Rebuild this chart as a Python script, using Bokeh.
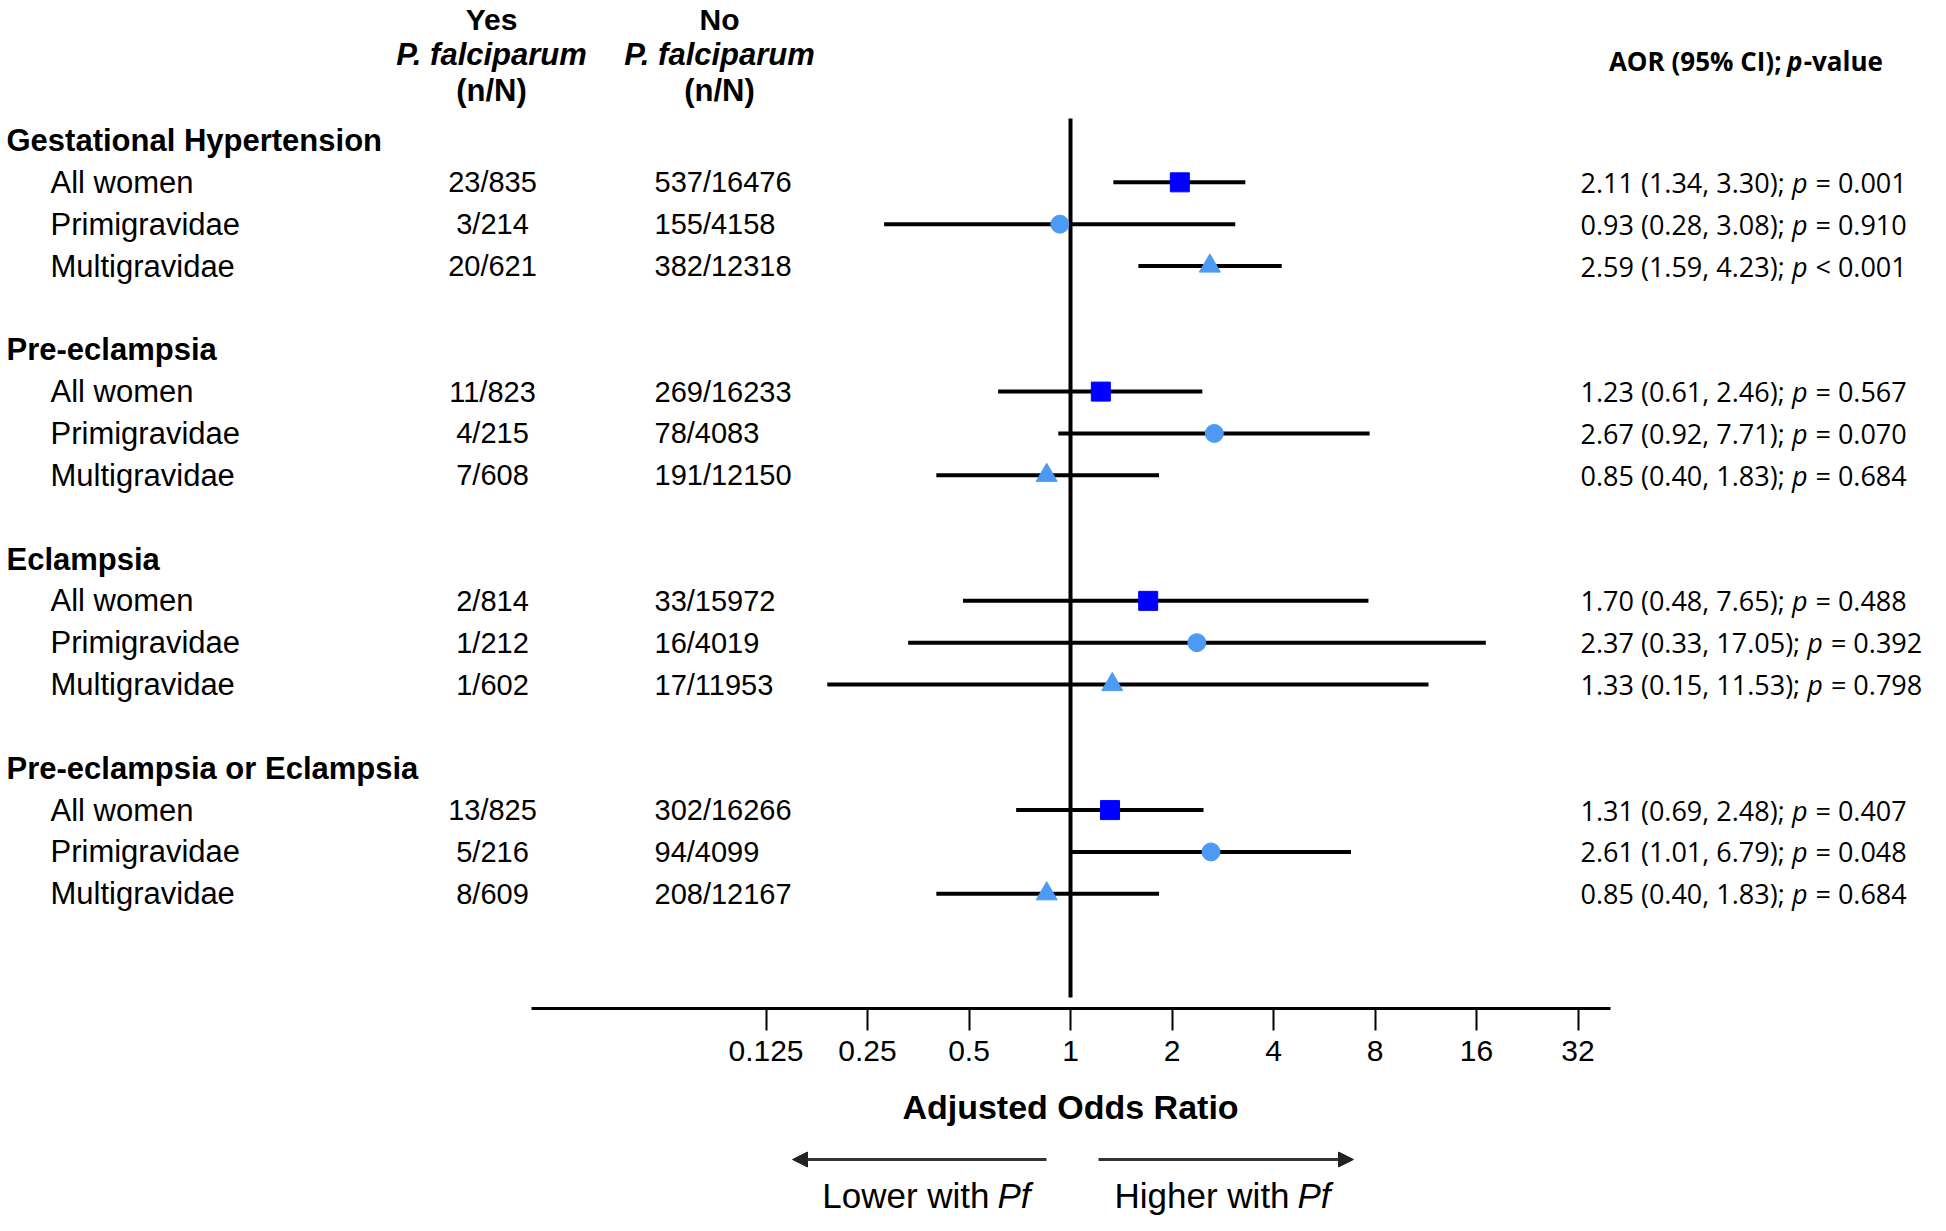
from bokeh.plotting import figure
from bokeh.models import Range1d, LinearScale, FixedTicker, Arrow, NormalHead, ColumnDataSource
from bokeh.layouts import column
from bokeh.core.properties import value
from bokeh.embed import file_html
from bokeh.resources import INLINE

# ---------------- data ----------------
groups = ["Gestational Hypertension", "Pre-eclampsia", "Eclampsia", "Pre-eclampsia or Eclampsia"]
subgroups = ["All women", "Primigravidae", "Multigravidae"]
yes_pf = [["23/835", "3/214", "20/621"],
          ["11/823", "4/215", "7/608"],
          ["2/814", "1/212", "1/602"],
          ["13/825", "5/216", "8/609"]]
no_pf = [["537/16476", "155/4158", "382/12318"],
         ["269/16233", "78/4083", "191/12150"],
         ["33/15972", "16/4019", "17/11953"],
         ["302/16266", "94/4099", "208/12167"]]
aor = [[2.11, 0.93, 2.59],
       [1.23, 2.67, 0.85],
       [1.70, 2.37, 1.33],
       [1.31, 2.61, 0.85]]
ci_low = [[1.34, 0.28, 1.59],
          [0.61, 0.92, 0.40],
          [0.48, 0.33, 0.19],
          [0.69, 1.01, 0.40]]
ci_high = [[3.30, 3.08, 4.23],
           [2.46, 7.71, 1.83],
           [7.65, 17.05, 11.53],
           [2.48, 6.79, 1.83]]
aor_text = [["2.11 (1.34, 3.30);", "0.93 (0.28, 3.08);", "2.59 (1.59, 4.23);"],
            ["1.23 (0.61, 2.46);", "2.67 (0.92, 7.71);", "0.85 (0.40, 1.83);"],
            ["1.70 (0.48, 7.65);", "2.37 (0.33, 17.05);", "1.33 (0.15, 11.53);"],
            ["1.31 (0.69, 2.48);", "2.61 (1.01, 6.79);", "0.85 (0.40, 1.83);"]]
p_text = [["= 0.001", "= 0.910", "< 0.001"],
          ["= 0.567", "= 0.070", "= 0.684"],
          ["= 0.488", "= 0.392", "= 0.798"],
          ["= 0.407", "= 0.048", "= 0.684"]]
tick_values = [0.125, 0.25, 0.5, 1, 2, 4, 8, 16, 32]
tick_labels = ["0.125", "0.25", "0.5", "1", "2", "4", "8", "16", "32"]
marker_shapes = ["square", "circle", "triangle"]
marker_colors = ["#0000FF", "#4C9AF4", "#4C9AF4"]
marker_sizes = [19, 18, 21]

# ---------------- layout constants (page pixels) ----------------
W = 1930
H_TOTAL = 1215
ROW0, PITCH = 140.0, 41.85
AXIS_Y = 1008
AXIS_PANEL = 66
X_ONE, OCTAVE = 1070.0, 101.5

LEFT_FONT = "Liberation Sans"
AOR_FONT = "Open Sans"

OS_W = {c: 0.572 for c in "0123456789=<"}
OS_W.update({".": 0.266, ",": 0.245, "(": 0.296, ")": 0.296, ";": 0.266, " ": 0.26, "p": 0.613})


def em_width(s):
    return sum(OS_W.get(c, 0.55) for c in s)


def row_y(py):
    return (py - ROW0) / PITCH


p = figure(frame_width=W, frame_height=AXIS_Y, x_axis_type="log",
           x_range=Range1d(2 ** (-X_ONE / OCTAVE), 2 ** ((W - X_ONE) / OCTAVE)),
           y_range=Range1d(row_y(AXIS_Y), row_y(0)),
           y_axis_location=None, output_backend="svg", toolbar_location=None,
           min_border=0, min_border_bottom=AXIS_PANEL, outline_line_color=None)
p.extra_x_ranges = {"tbl": Range1d(0, W)}
p.extra_x_scales = {"tbl": LinearScale()}
p.grid.visible = False

ax = p.xaxis[0]
ax.ticker = FixedTicker(ticks=tick_values)
ax.major_label_overrides = dict(zip(tick_values, tick_labels))
ax.bounds = (2 ** ((531 - X_ONE) / OCTAVE), 2 ** ((1610 - X_ONE) / OCTAVE))
ax.axis_line_width = 3
ax.axis_line_color = "black"
ax.major_tick_line_width = 2
ax.major_tick_line_color = "black"
ax.major_tick_out = 22
ax.major_tick_in = 0
ax.minor_tick_line_color = None
ax.major_label_text_font = LEFT_FONT
ax.major_label_text_font_size = "30px"
ax.major_label_text_color = "black"
ax.major_label_standoff = 10

# rows
hy, ht = [], []
ry, rlab, ryes, rno = [], [], [], []
fx, flo, fhi, fy, fm, fc, fs = [], [], [], [], [], [], []
a_pre, a_p, a_val, a_y, a_xp, a_xv = [], [], [], [], [], []
AOR_FS = 27
AOR_X = 1580
for g, name in enumerate(groups):
    hy.append(g * 5)
    ht.append(name)
    for k, sub in enumerate(subgroups):
        y = g * 5 + k + 1
        ry.append(y)
        rlab.append(sub)
        ryes.append(yes_pf[g][k])
        rno.append(no_pf[g][k])
        fx.append(aor[g][k])
        flo.append(ci_low[g][k])
        fhi.append(ci_high[g][k])
        fy.append(y)
        fm.append(marker_shapes[k])
        fc.append(marker_colors[k])
        fs.append(marker_sizes[k])
        pre = aor_text[g][k]
        a_pre.append(pre)
        a_y.append(y)
        xp = AOR_X + (em_width(pre) + 0.26) * AOR_FS
        a_xp.append(xp)
        a_xv.append(xp + (0.613 + 0.26) * AOR_FS)
        a_p.append("p")
        a_val.append(p_text[g][k])

common = dict(x_range_name="tbl", text_color="black", text_baseline="middle")

p.text(x=[6] * len(hy), y=hy, text=ht, text_font=value(LEFT_FONT), text_font_size="31px",
       text_font_style="bold", text_align="left", **common)
p.text(x=[50] * len(ry), y=ry, text=rlab, text_font=value(LEFT_FONT), text_font_size="31px",
       text_align="left", **common)
p.text(x=[492] * len(ry), y=ry, text=ryes, text_font=value(LEFT_FONT), text_font_size="29px",
       text_align="center", **common)
p.text(x=[654] * len(ry), y=ry, text=rno, text_font=value(LEFT_FONT), text_font_size="29px",
       text_align="left", **common)

# column headers
hdr_y = [row_y(19), row_y(54), row_y(90)]
for cx, top in [(491, "Yes"), (719, "No")]:
    p.text(x=[cx], y=[hdr_y[0]], text=[top], text_font=value(LEFT_FONT), text_font_size="30px",
           text_font_style="bold", text_align="center", **common)
    p.text(x=[cx], y=[hdr_y[1]], text=["P. falciparum"], text_font=value(LEFT_FONT),
           text_font_size="31px", text_font_style="bold italic", text_align="center", **common)
    p.text(x=[cx], y=[hdr_y[2]], text=["(n/N)"], text_font=value(LEFT_FONT), text_font_size="31px",
           text_font_style="bold", text_align="center", **common)

# AOR header with italic p
HFS = 26
h_pre = "AOR (95% CI);"
h_w = (6.59 + 0.26 + 0.64 + 2.94) * HFS
h_x0 = 1744 - h_w / 2
h_xp = h_x0 + (6.59 + 0.26) * HFS
h_xv = h_xp + 0.64 * HFS
h_y = row_y(60)
p.text(x=[h_x0], y=[h_y], text=[h_pre], text_font=value(AOR_FONT), text_font_size=f"{HFS}px",
       text_font_style="bold", text_align="left", **common)
p.text(x=[h_xp], y=[h_y], text=["p"], text_font=value(AOR_FONT), text_font_size=f"{HFS}px",
       text_font_style="bold italic", text_align="left", **common)
p.text(x=[h_xv], y=[h_y], text=["-value"], text_font=value(AOR_FONT), text_font_size=f"{HFS}px",
       text_font_style="bold", text_align="left", **common)

# AOR values
p.text(x=[AOR_X] * len(a_y), y=a_y, text=a_pre, text_font=value(AOR_FONT),
       text_font_size=f"{AOR_FS}px", text_align="left", **common)
p.text(x=a_xp, y=a_y, text=a_p, text_font=value(AOR_FONT), text_font_size=f"{AOR_FS}px",
       text_font_style="italic", text_align="left", **common)
p.text(x=a_xv, y=a_y, text=a_val, text_font=value(AOR_FONT), text_font_size=f"{AOR_FS}px",
       text_align="left", **common)

# reference line at OR = 1
p.segment(x0=[1], x1=[1], y0=[row_y(118)], y1=[row_y(997)], line_color="black", line_width=4)

src = ColumnDataSource(dict(x=fx, lo=flo, hi=fhi, y=fy, marker=fm, color=fc, size=fs))
p.segment(x0="lo", x1="hi", y0="y", y1="y", source=src, line_color="black", line_width=4)
p.scatter(x="x", y="y", marker="marker", size="size", fill_color="color", line_color="color",
          source=src)

# ---------------- bottom strip: axis title and direction arrows ----------------
P2_TOP = AXIS_Y + AXIS_PANEL
p2 = figure(frame_width=W, frame_height=H_TOTAL - P2_TOP,
            x_range=Range1d(0, W), y_range=Range1d(H_TOTAL, P2_TOP),
            x_axis_location=None, y_axis_location=None, output_backend="svg",
            toolbar_location=None, min_border=0, outline_line_color=None)
p2.grid.visible = False
p2.text(x=[X_ONE], y=[1106], text=["Adjusted Odds Ratio"], text_align="center",
        text_baseline="middle", text_color="black", text_font=value(LEFT_FONT),
        text_font_size="34px", text_font_style="bold")
ARROW_Y = 1159
p2.add_layout(Arrow(end=NormalHead(size=15, fill_color="#222222", line_color="#222222"),
                    x_start=1046, y_start=ARROW_Y, x_end=792, y_end=ARROW_Y,
                    line_width=3, line_color="#333333"))
p2.add_layout(Arrow(end=NormalHead(size=15, fill_color="#222222", line_color="#222222"),
                    x_start=1098, y_start=ARROW_Y, x_end=1353, y_end=ARROW_Y,
                    line_width=3, line_color="#333333"))
LAB_Y = 1195
lab_common = dict(text_color="black", text_baseline="middle", text_font=value(LEFT_FONT),
                  text_font_size="35px")
p2.text(x=[989], y=[LAB_Y], text=["Lower with"], text_align="right", **lab_common)
p2.text(x=[997], y=[LAB_Y], text=["Pf"], text_align="left", text_font_style="italic", **lab_common)
p2.text(x=[1114], y=[LAB_Y], text=["Higher with"], text_align="left", **lab_common)
p2.text(x=[1297], y=[LAB_Y], text=["Pf"], text_align="left", text_font_style="italic", **lab_common)

layout = column(p, p2, spacing=0)
open("out.html", "w").write(file_html(layout, INLINE))
